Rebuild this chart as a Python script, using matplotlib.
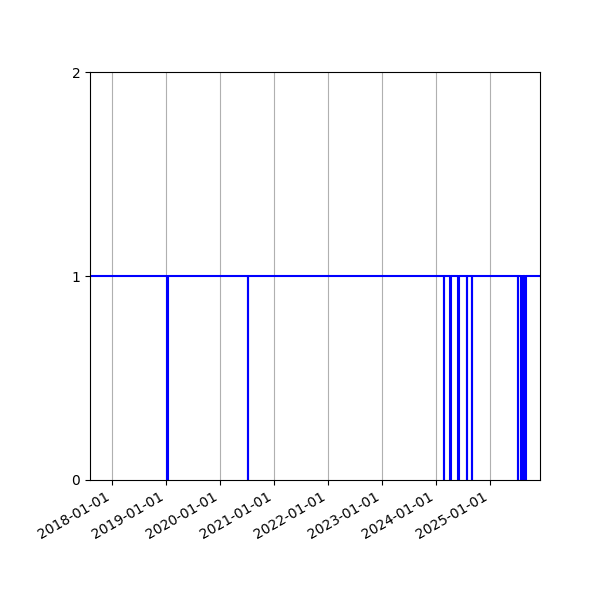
import matplotlib
matplotlib.use('Agg')
import matplotlib.pyplot as plt
import matplotlib.dates as mdates
import numpy as np

# status changes (1 = up, 0 = down), steps-post
dates = ['2017-08-05', '2019-01-07', '2019-01-17', '2020-07-06', '2020-07-08',
         '2024-02-25', '2024-02-27', '2024-04-08', '2024-04-13',
         '2024-05-29', '2024-06-03', '2024-07-29', '2024-07-31',
         '2024-08-29', '2024-09-02', '2025-07-06', '2025-07-09',
         '2025-07-28', '2025-08-02', '2025-08-07', '2025-08-12',
         '2025-08-17', '2025-08-22', '2025-08-27', '2025-09-01',
         '2025-12-05']
status = [1, 0, 1, 0, 1,
          0, 1, 0, 1,
          0, 1, 0, 1,
          0, 1, 0, 1,
          0, 1, 0, 1,
          0, 1, 0, 1,
          1]

x = np.array(dates, dtype='datetime64[D]')

fig, ax = plt.subplots(figsize=(6, 6), dpi=100)
ax.plot(x, status, color='blue', drawstyle='steps-post', linewidth=1.5)

ax.set_xlim(x[0], x[-1])
ax.set_ylim(0, 2)
ax.set_yticks([0, 1, 2])
ax.xaxis.set_major_locator(mdates.YearLocator())
ax.xaxis.set_major_formatter(mdates.DateFormatter('%Y-%m-%d'))
ax.grid(axis='x', color='#b0b0b0')
fig.autofmt_xdate()
fig.subplots_adjust(left=0.15, right=0.9, top=0.88, bottom=0.2)

fig.savefig('out.png')
